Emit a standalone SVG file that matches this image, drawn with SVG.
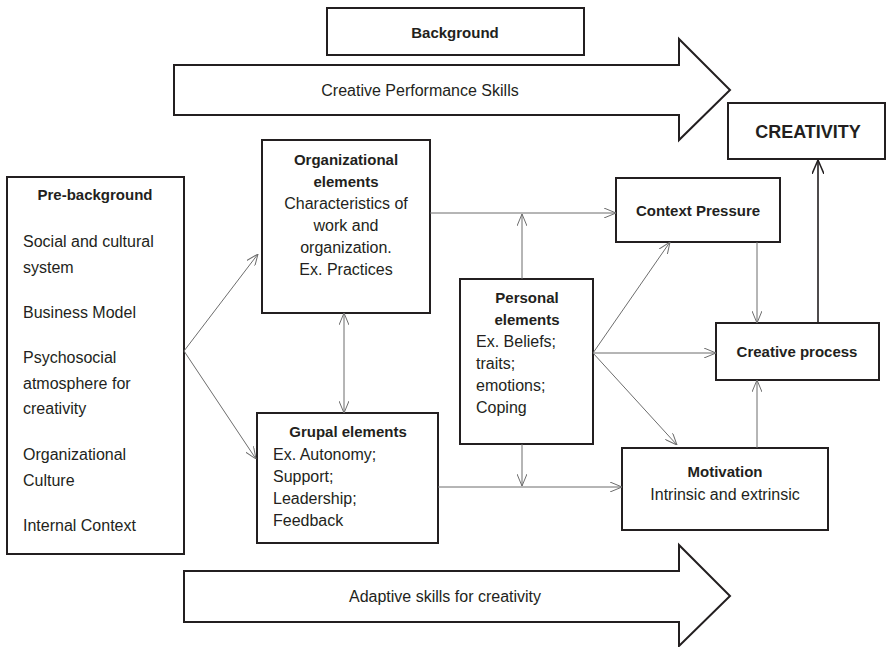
<svg xmlns="http://www.w3.org/2000/svg" width="889" height="647" viewBox="0 0 889 647">
  <style>
    .box { fill: #fff; stroke: #231f20; stroke-width: 2; }
    .big { fill: #fff; stroke: #231f20; stroke-width: 2; stroke-linejoin: miter; }
    text { font-family: "Liberation Sans", Arial, sans-serif; fill: #231f20; }
    .t { font-size: 16px; }
    .b { font-size: 15px; font-weight: bold; }
    .c { text-anchor: middle; }
    .link { fill: none; stroke: #6d6d6d; stroke-width: 1; }
    .main { fill: none; stroke: #231f20; stroke-width: 1.6; }
  </style>
  <defs>
    <marker id="arr" viewBox="0 0 12 10" refX="12" refY="5" markerWidth="12" markerHeight="10" markerUnits="userSpaceOnUse" orient="auto-start-reverse">
      <path d="M0,0 L12,5 L0,10" fill="none" stroke="#6d6d6d" stroke-width="1"/>
    </marker>
    <marker id="arrDark" viewBox="0 0 14 12" refX="14" refY="6" markerWidth="14" markerHeight="12" markerUnits="userSpaceOnUse" orient="auto">
      <path d="M0,0 L14,6 L0,12" fill="none" stroke="#231f20" stroke-width="1.5"/>
    </marker>
  </defs>

  <!-- background band arrows -->
  <g id="background">
    <rect class="box" x="327" y="8" width="257" height="47"/>
    <text class="b c" x="455" y="38">Background</text>
  </g>
  <g id="creative-performance-skills">
    <polygon class="big" points="174,65 679,65 679,39 730,90 679,140 679,115 174,115"/>
    <text class="t c" x="420" y="96">Creative Performance Skills</text>
  </g>
  <g id="adaptive-skills">
    <polygon class="big" points="184,571 679,571 679,545 730,596 679,646 679,622 184,622"/>
    <text class="t c" x="445" y="602">Adaptive skills for creativity</text>
  </g>

  <!-- nodes -->
  <g id="pre-background">
    <rect class="box" x="7" y="177" width="177" height="377"/>
    <text class="b c" x="95" y="200">Pre-background</text>
    <text class="t" x="23" y="247">Social and cultural</text>
    <text class="t" x="23" y="273">system</text>
    <text class="t" x="23" y="318">Business Model</text>
    <text class="t" x="23" y="363">Psychosocial</text>
    <text class="t" x="23" y="389">atmosphere for</text>
    <text class="t" x="23" y="414">creativity</text>
    <text class="t" x="23" y="460">Organizational</text>
    <text class="t" x="23" y="486">Culture</text>
    <text class="t" x="23" y="531">Internal Context</text>
  </g>

  <g id="organizational-elements">
    <rect class="box" x="262" y="140" width="168" height="173"/>
    <text class="b c" x="346" y="165">Organizational</text>
    <text class="b c" x="346" y="187">elements</text>
    <text class="t c" x="346" y="209">Characteristics of</text>
    <text class="t c" x="346" y="231">work and</text>
    <text class="t c" x="346" y="253">organization.</text>
    <text class="t c" x="346" y="275">Ex. Practices</text>
  </g>

  <g id="grupal-elements">
    <rect class="box" x="257" y="413" width="181" height="130"/>
    <text class="b c" x="348" y="437">Grupal elements</text>
    <text class="t" x="273" y="460">Ex. Autonomy;</text>
    <text class="t" x="273" y="482">Support;</text>
    <text class="t" x="273" y="504">Leadership;</text>
    <text class="t" x="273" y="526">Feedback</text>
  </g>

  <g id="personal-elements">
    <rect class="box" x="460" y="279" width="133" height="165"/>
    <text class="b c" x="527" y="303">Personal</text>
    <text class="b c" x="527" y="325">elements</text>
    <text class="t" x="476" y="347">Ex. Beliefs;</text>
    <text class="t" x="476" y="369">traits;</text>
    <text class="t" x="476" y="391">emotions;</text>
    <text class="t" x="476" y="413">Coping</text>
  </g>

  <g id="context-pressure">
    <rect class="box" x="616" y="178" width="164" height="64"/>
    <text class="b c" x="698" y="216">Context Pressure</text>
  </g>

  <g id="creative-process">
    <rect class="box" x="716" y="323" width="163" height="57"/>
    <text class="b c" x="797" y="357">Creative process</text>
  </g>

  <g id="motivation">
    <rect class="box" x="622" y="448" width="206" height="82"/>
    <text class="b c" x="725" y="477">Motivation</text>
    <text class="t c" x="725" y="500">Intrinsic and extrinsic</text>
  </g>

  <g id="creativity">
    <rect class="box" x="728" y="103" width="157" height="56"/>
    <text class="c" x="808" y="138" style="font-size:18px;font-weight:bold">CREATIVITY</text>
  </g>

  <!-- connectors -->
  <g id="connectors">
    <path class="link" d="M184,351 L258,254" marker-end="url(#arr)"/>
    <path class="link" d="M184,351 L256,459" marker-end="url(#arr)"/>
    <path class="link" d="M344,313 L344,413" marker-start="url(#arr)" marker-end="url(#arr)"/>
    <path class="link" d="M430,213 L616,213" marker-end="url(#arr)"/>
    <path class="link" d="M522,279 L522,214" marker-end="url(#arr)"/>
    <path class="link" d="M522,444 L522,486" marker-end="url(#arr)"/>
    <path class="link" d="M438,487 L622,487" marker-end="url(#arr)"/>
    <path class="link" d="M593,353 L670,242" marker-end="url(#arr)"/>
    <path class="link" d="M593,353 L716,353" marker-end="url(#arr)"/>
    <path class="link" d="M593,353 L677,445" marker-end="url(#arr)"/>
    <path class="link" d="M757,242 L757,323" marker-end="url(#arr)"/>
    <path class="link" d="M757,448 L757,380" marker-end="url(#arr)"/>
    <path class="main" d="M818,323 L818,160" marker-end="url(#arrDark)"/>
  </g>
</svg>
